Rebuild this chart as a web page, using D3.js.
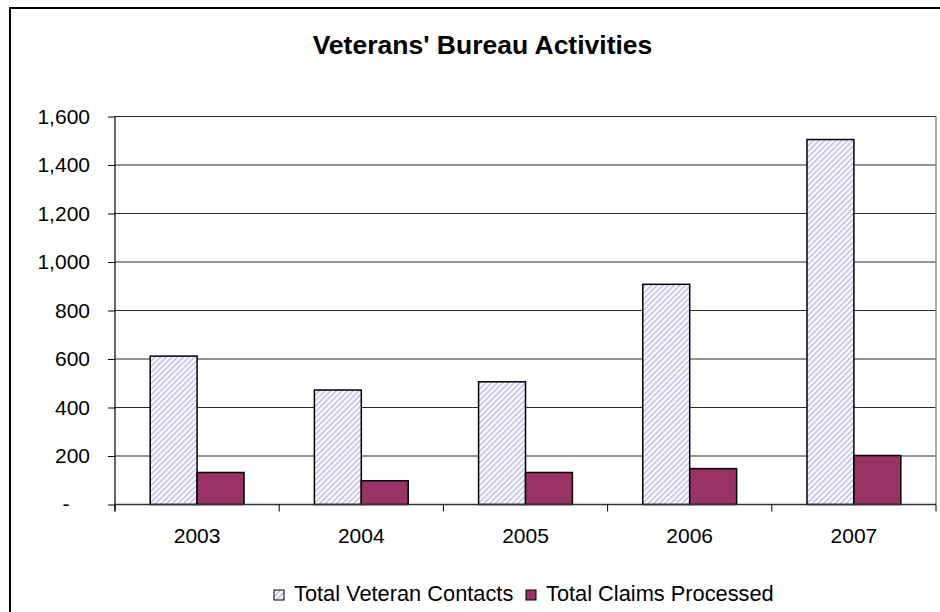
<!DOCTYPE html>
<html>
<head>
<meta charset="utf-8">
<script src="https://cdn.jsdelivr.net/npm/d3@7"></script>
<style>
  body { margin: 0; background: #fff; }
  svg { display: block; font-family: "Liberation Sans", Arial, sans-serif; }
</style>
</head>
<body>
<svg width="940" height="612"></svg>
<script>
//  Data
const years = ['2003', '2004', '2005', '2006', '2007'];
const seriesNames = ['Total Veteran Contacts', 'Total Claims Processed'];
const veteranContacts = [612, 472, 506, 908, 1505];
const claimsProcessed = [132, 98, 132, 148, 202];
const yTicks = [0, 200, 400, 600, 800, 1000, 1200, 1400, 1600];

const svg = d3.select('svg');

//  pattern for the striped bars
const defs = svg.append('defs');
const stripes = defs.append('pattern')
    .attr('id', 'stripes')
    .attr('patternUnits', 'userSpaceOnUse')
    .attr('width', 4)
    .attr('height', 4)
    .attr('patternTransform', 'rotate(45)');
stripes.append('rect')
    .attr('width', 4)
    .attr('height', 4)
    .attr('fill', '#ffffff');
stripes.append('rect')
    .attr('width', 1.4)
    .attr('height', 4)
    .attr('fill', '#b4b4f6');

//  outer chart frame (runs off the right and bottom edge)
svg.append('rect')
    .attr('x', 10)
    .attr('y', 8)
    .attr('width', 945)
    .attr('height', 620)
    .attr('fill', 'none')
    .attr('stroke', '#000')
    .attr('stroke-width', 2);

//  title
svg.append('text')
    .attr('x', 482.5)
    .attr('y', 54)
    .attr('text-anchor', 'middle')
    .attr('font-size', 26.5)
    .attr('font-weight', 'bold')
    .text("Veterans' Bureau Activities");

//  scales
const plotLeft = 115, plotRight = 936, plotTop = 116.5, plotBottom = 504.5;

const x0 = d3.scaleBand()
    .domain(years)
    .range([plotLeft, plotRight]);

const x1 = d3.scaleBand()
    .domain(seriesNames)
    .range([0, x0.bandwidth()])
    .paddingInner(0)
    .paddingOuter(0.75);

const y = d3.scaleLinear()
    .domain([0, 1600])
    .range([plotBottom, plotTop]);

//  gridlines
svg.append('g')
    .selectAll('line')
    .data(yTicks.slice(1))
    .join('line')
    .attr('x1', plotLeft)
    .attr('x2', plotRight)
    .attr('y1', d => y(d))
    .attr('y2', d => y(d))
    .attr('stroke', '#2a2a2a')
    .attr('stroke-width', 1);

//  right border of plot area
svg.append('line')
    .attr('x1', plotRight)
    .attr('x2', plotRight)
    .attr('y1', plotTop)
    .attr('y2', plotBottom)
    .attr('stroke', '#8c8c8c')
    .attr('stroke-width', 1.5);

//  bars
const rows = years.map((yr, i) => ({
    year: yr,
    values: [
        { key: seriesNames[0], value: veteranContacts[i] },
        { key: seriesNames[1], value: claimsProcessed[i] }
    ]
}));

const fills = {};
fills[seriesNames[0]] = 'url(#stripes)';
fills[seriesNames[1]] = '#993366';

svg.append('g')
    .selectAll('g')
    .data(rows)
    .join('g')
    .attr('transform', d => `translate(${x0(d.year)},0)`)
    .selectAll('rect')
    .data(d => d.values)
    .join('rect')
    .attr('x', d => x1(d.key))
    .attr('y', d => y(d.value))
    .attr('width', x1.bandwidth())
    .attr('height', d => y(0) - y(d.value))
    .attr('fill', d => fills[d.key])
    .attr('stroke', '#000')
    .attr('stroke-width', 1.5);

//  y axis
const yAxis = svg.append('g')
    .attr('transform', `translate(${plotLeft},0)`)
    .call(d3.axisLeft(y)
        .tickValues(yTicks)
        .tickSize(7)
        .tickPadding(18)
        .tickFormat(d => d === 0 ? '' : d3.format(',')(d)));
yAxis.select('.domain').remove();
yAxis.selectAll('line').attr('stroke', '#000');
yAxis.selectAll('text')
    .attr('font-size', 21)
    .attr('fill', '#000')
    .attr('font-family', '"Liberation Sans", Arial, sans-serif');

svg.append('text')
    .attr('x', 66)
    .attr('y', y(0))
    .attr('dy', '0.32em')
    .attr('text-anchor', 'middle')
    .attr('font-size', 21)
    .text('-');

svg.append('line')
    .attr('x1', plotLeft)
    .attr('x2', plotLeft)
    .attr('y1', plotTop)
    .attr('y2', plotBottom + 7)
    .attr('stroke', '#000')
    .attr('stroke-width', 1.2);

//  x axis
const xAxis = svg.append('g')
    .attr('transform', `translate(0,${plotBottom})`);
xAxis.append('line')
    .attr('x1', plotLeft)
    .attr('x2', plotRight)
    .attr('stroke', '#333')
    .attr('stroke-width', 1.5);
xAxis.selectAll('.tick-sep')
    .data(years.concat(['end']))
    .join('line')
    .attr('class', 'tick-sep')
    .attr('x1', (d, i) => i < years.length ? x0(d) : plotRight)
    .attr('x2', (d, i) => i < years.length ? x0(d) : plotRight)
    .attr('y1', 0)
    .attr('y2', 7)
    .attr('stroke', '#000');
xAxis.selectAll('.year')
    .data(years)
    .join('text')
    .attr('class', 'year')
    .attr('x', d => x0(d) + x0.bandwidth() / 2)
    .attr('y', 38)
    .attr('text-anchor', 'middle')
    .attr('font-size', 21)
    .text(d => d);

//  legend
const legendX = [274, 526];
const legend = svg.append('g');
const items = legend.selectAll('g')
    .data(seriesNames)
    .join('g')
    .attr('transform', (d, i) => `translate(${legendX[i]},590)`);
items.append('rect')
    .attr('width', 10)
    .attr('height', 10)
    .attr('fill', d => fills[d])
    .attr('stroke', '#000')
    .attr('stroke-width', 1);
items.append('text')
    .attr('x', 20)
    .attr('y', 11)
    .attr('font-size', 21.8)
    .text(d => d);
</script>
</body>
</html>
